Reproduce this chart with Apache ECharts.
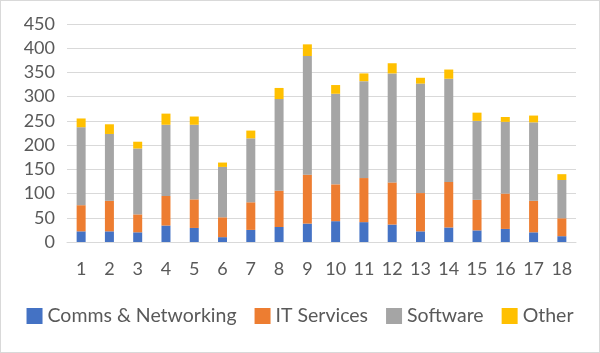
<!DOCTYPE html>
<html>
<head>
<meta charset="utf-8">
<script src="https://cdn.jsdelivr.net/npm/echarts@6/dist/echarts.min.js"></script>
<style>
  html, body { margin: 0; padding: 0; background: #fff; }
  #chart { width: 600px; height: 353px; box-sizing: border-box; border: 1px solid #d9d9d9; }
</style>
</head>
<body>
<div id="chart"></div>
<script>
const categories = ['1', '2', '3', '4', '5', '6', '7', '8', '9', '10', '11', '12', '13', '14', '15', '16', '17', '18']
const commsNetworking = [22, 22, 20, 34, 29, 10, 25, 31, 38, 43, 41, 36, 22, 30, 24, 27, 20, 12]
const itServices = [54, 63, 37, 61, 59, 41, 57, 75, 101, 76, 91, 87, 79, 94, 63, 73, 65, 37]
const software = [161, 138, 136, 147, 154, 104, 132, 189, 245, 187, 200, 225, 226, 213, 163, 148, 162, 79]
const other = [18, 20, 14, 23, 17, 9, 16, 23, 24, 18, 16, 21, 12, 19, 17, 10, 14, 12]

const fontFamily = 'Lato'
const textColor = '#595959'

const chart = echarts.init(document.getElementById('chart'))

const makeSeries = (name, data, color) => ({
  name: name,
  type: 'bar',
  stack: 'total',
  barWidth: 9,
  data: data,
  itemStyle: { color: color },
  emphasis: { disabled: true }
})

var option = {
  animation: false,
  textStyle: { fontFamily: fontFamily },
  grid: { left: 66, right: 23, top: 23, bottom: 110 },
  legend: {
    bottom: 21,
    left: 'center',
    itemWidth: 16,
    itemHeight: 16,
    itemGap: 18,
    icon: 'rect',
    textStyle: { fontSize: 19.5, color: textColor, fontFamily: fontFamily },
    data: ['Comms & Networking', 'IT Services', 'Software', 'Other']
  },
  xAxis: {
    type: 'category',
    data: categories,
    axisLine: { lineStyle: { color: '#d9d9d9' } },
    axisTick: { show: false },
    axisLabel: { fontSize: 18, color: textColor, margin: 18, fontFamily: fontFamily }
  },
  yAxis: {
    type: 'value',
    min: 0,
    max: 450,
    interval: 50,
    axisLine: { show: false },
    axisTick: { show: false },
    splitLine: { lineStyle: { color: '#d9d9d9' } },
    axisLabel: { fontSize: 18, color: textColor, margin: 12, fontFamily: fontFamily }
  },
  series: [
    makeSeries('Comms & Networking', commsNetworking, '#4472C4'),
    makeSeries('IT Services', itServices, '#ED7D31'),
    makeSeries('Software', software, '#A5A5A5'),
    makeSeries('Other', other, '#FFC000')
  ]
}

chart.setOption(option)
</script>
</body>
</html>
